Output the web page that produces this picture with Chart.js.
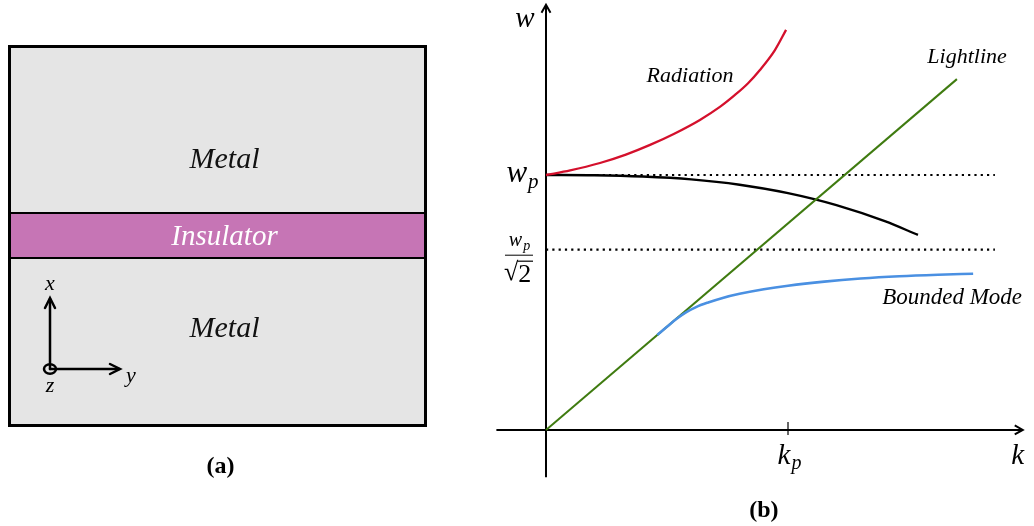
<!DOCTYPE html>
<html>
<head>
<meta charset="utf-8">
<script src="https://cdn.jsdelivr.net/npm/chart.js@4/dist/chart.umd.min.js"></script>
<style>
  html, body { margin: 0; padding: 0; background: #ffffff; }
  #wrap { position: relative; width: 1034px; height: 526px; overflow: hidden; }
  #panelA { position: absolute; left: 0; top: 0; }
  #panelB { position: absolute; left: 440px; top: 0; }
</style>
</head>
<body>
<div id="wrap">
  <canvas id="panelA" width="440" height="526"></canvas>
  <canvas id="panelB" width="594" height="526"></canvas>
</div>
<script>
// ---- (a) layer stack, listed bottom to top ----
const layerNames = ['Metal', 'Insulator', 'Metal'];
const layerThickness = [169, 45, 168];
// where each name sits inside its layer (0 = bottom edge, 1 = top edge)
const layerLabelAt = [0.578, 0.46, 0.315];

// ---- (b) dispersion curves, k in units of k_p, w in units of w_p ----
const lightK = [0, 1.698];
const lightW = [0, 1.376];

const radiationK = [0, 0.1, 0.223, 0.33, 0.43, 0.53, 0.636, 0.72, 0.781, 0.835, 0.884, 0.946, 0.992];
const radiationW = [1.0, 1.018, 1.047, 1.08, 1.118, 1.162, 1.216, 1.268, 1.314, 1.36, 1.412, 1.49, 1.569];

const surfaceK = [0, 0.2, 0.4, 0.6, 0.8, 1.0, 1.2, 1.4, 1.537];
const surfaceW = [1.0, 0.999, 0.994, 0.983, 0.962, 0.929, 0.882, 0.819, 0.765];

const boundK = [0.46, 0.50, 0.54, 0.58, 0.62, 0.67, 0.73, 0.80, 0.90, 1.00, 1.15, 1.30, 1.46, 1.62, 1.765];
const boundW = [0.373, 0.405, 0.436, 0.462, 0.482, 0.500, 0.518, 0.534, 0.552, 0.566, 0.582, 0.594, 0.603, 0.609, 0.613];

// reference levels w_p and w_p/sqrt(2), and where their dotted guides stop
const levelW = [1, 1 / Math.SQRT2];
const levelEndK = 1.855;

// tick on the k axis
const kTickValues = [1];
const kTickLabels = [['k', 'p']];

const SERIF = '"Liberation Serif", "DejaVu Serif", serif';

function pts(ks, ws) { return ks.map((k, i) => ({ x: k, y: ws[i] })); }

function chevron(ctx, tx, ty, dir, len, half) {
  // open arrowhead; dir: 'up' or 'right'
  ctx.beginPath();
  if (dir === 'up') {
    ctx.moveTo(tx - half, ty + len); ctx.lineTo(tx, ty); ctx.lineTo(tx + half, ty + len);
  } else {
    ctx.moveTo(tx - len, ty - half); ctx.lineTo(tx, ty); ctx.lineTo(tx - len, ty + half);
  }
  ctx.stroke();
}

function subText(ctx, base, sub, cx, cy, size, subSize, color) {
  ctx.fillStyle = color || '#000';
  ctx.textBaseline = 'middle';
  ctx.textAlign = 'left';
  ctx.font = 'italic ' + size + 'px ' + SERIF;
  const wb = ctx.measureText(base).width;
  ctx.font = 'italic ' + subSize + 'px ' + SERIF;
  const ws = ctx.measureText(sub).width;
  const x0 = cx - (wb + ws) / 2;
  ctx.font = 'italic ' + size + 'px ' + SERIF;
  ctx.fillText(base, x0, cy);
  ctx.font = 'italic ' + subSize + 'px ' + SERIF;
  ctx.fillText(sub, x0 + wb + 1, cy + size * 0.28);
}

// ---------------- panel (a) ----------------
const layerPlugin = {
  id: 'layerLabels',
  afterDatasetsDraw(chart) {
    const ctx = chart.ctx;
    const area = chart.chartArea;
    ctx.save();
    ctx.textAlign = 'center';
    ctx.textBaseline = 'middle';
    layerNames.forEach((name, i) => {
      const bar = chart.getDatasetMeta(i).data[0];
      const cy = bar.base + (bar.y - bar.base) * layerLabelAt[i];
      const isIns = name === 'Insulator';
      ctx.fillStyle = isIns ? '#ffffff' : '#111111';
      ctx.font = 'italic ' + (isIns ? 29 : 30) + 'px ' + SERIF;
      ctx.fillText(name, bar.x + 7, cy);
    });

    // coordinate triad
    const ox = area.left + 42, oy = area.bottom - 58;
    ctx.strokeStyle = '#000';
    ctx.lineWidth = 2.5;
    ctx.lineCap = 'round';
    ctx.lineJoin = 'miter';
    ctx.beginPath(); ctx.moveTo(ox, oy); ctx.lineTo(ox, oy - 70); ctx.stroke();
    chevron(ctx, ox, oy - 71, 'up', 10, 5);
    ctx.beginPath(); ctx.moveTo(ox, oy); ctx.lineTo(ox + 69, oy); ctx.stroke();
    chevron(ctx, ox + 70, oy, 'right', 10, 5);
    ctx.beginPath(); ctx.ellipse(ox, oy, 6, 4.8, 0, 0, Math.PI * 2); ctx.stroke();
    ctx.fillStyle = '#000';
    ctx.font = 'italic 22px ' + SERIF;
    ctx.textAlign = 'center';
    ctx.fillText('x', ox, oy - 85);
    ctx.fillText('y', ox + 81, oy + 7);
    ctx.fillText('z', ox, oy + 17);

    ctx.font = 'bold 24px ' + SERIF;
    ctx.fillText('(a)', (area.left + area.right) / 2 + 3, 467);
    ctx.restore();
  }
};

const frameW = 3, innerW = 1;
new Chart(document.getElementById('panelA'), {
  type: 'bar',
  data: {
    labels: ['stack'],
    datasets: [
      { data: [layerThickness[0]], backgroundColor: '#e5e5e5', borderColor: '#000',
        borderWidth: { top: innerW, bottom: frameW, left: frameW, right: frameW } },
      { data: [layerThickness[1]], backgroundColor: '#c675b5', borderColor: '#000',
        borderWidth: { top: innerW, bottom: innerW, left: frameW, right: frameW } },
      { data: [layerThickness[2]], backgroundColor: '#e5e5e5', borderColor: '#000',
        borderWidth: { top: frameW, bottom: innerW, left: frameW, right: frameW } }
    ]
  },
  options: {
    responsive: false,
    animation: false,
    events: [],
    layout: { padding: { left: 8, right: 13, top: 45, bottom: 99 } },
    datasets: { bar: { barPercentage: 1, categoryPercentage: 1, borderSkipped: false, inflateAmount: 0 } },
    plugins: { legend: { display: false }, tooltip: { enabled: false } },
    scales: {
      x: { stacked: true, display: false },
      y: { stacked: true, display: false, min: 0,
           max: layerThickness.reduce((a, b) => a + b, 0) }
    }
  },
  plugins: [layerPlugin]
});

// ---------------- panel (b) ----------------
const axesPlugin = {
  id: 'dispersionAxes',
  beforeDatasetsDraw(chart) {
    const ctx = chart.ctx;
    const xs = chart.scales.x, ys = chart.scales.y;
    const ox = xs.getPixelForValue(0), oy = ys.getPixelForValue(0);
    ctx.save();
    ctx.strokeStyle = '#000';
    ctx.lineWidth = 2;
    ctx.lineCap = 'butt';
    const yTop = ys.getPixelForValue(1.668);
    ctx.beginPath(); ctx.moveTo(ox, ys.getPixelForValue(-0.185)); ctx.lineTo(ox, yTop + 1); ctx.stroke();
    chevron(ctx, ox, yTop, 'up', 8, 4.5);
    const xEnd = xs.getPixelForValue(1.97);
    ctx.beginPath(); ctx.moveTo(xs.getPixelForValue(-0.205), oy); ctx.lineTo(xEnd - 1, oy); ctx.stroke();
    chevron(ctx, xEnd, oy, 'right', 8, 4.5);
    ctx.lineWidth = 1.2;
    kTickValues.forEach(v => {
      const px = xs.getPixelForValue(v);
      ctx.beginPath(); ctx.moveTo(px, oy - 8); ctx.lineTo(px, oy + 5); ctx.stroke();
    });
    ctx.restore();
  },
  afterDatasetsDraw(chart) {
    const ctx = chart.ctx;
    const xs = chart.scales.x, ys = chart.scales.y;
    const ox = xs.getPixelForValue(0), oy = ys.getPixelForValue(0);
    ctx.save();
    // axis names
    ctx.fillStyle = '#000';
    ctx.textAlign = 'center';
    ctx.textBaseline = 'middle';
    ctx.font = 'italic 29px ' + SERIF;
    ctx.fillText('w', ox - 21, 19);
    ctx.fillText('k', xs.getPixelForValue(1.97) - 5, oy + 26);
    // k tick labels
    kTickValues.forEach((v, i) => {
      subText(ctx, kTickLabels[i][0], kTickLabels[i][1], xs.getPixelForValue(v) + 1, oy + 26, 29, 20);
    });
    // w_p
    subText(ctx, 'w', 'p', ox - 24, ys.getPixelForValue(levelW[0]) - 1, 31, 21);
    // w_p / sqrt(2)
    const fy = ys.getPixelForValue(levelW[1]);
    const fx = ox - 27;
    subText(ctx, 'w', 'p', fx, fy - 9, 20, 14);
    ctx.strokeStyle = '#000';
    ctx.lineWidth = 1;
    ctx.beginPath(); ctx.moveTo(fx - 14, fy + 5.5); ctx.lineTo(fx + 14, fy + 5.5); ctx.stroke();
    ctx.font = '26px ' + SERIF;
    ctx.textAlign = 'left';
    ctx.fillText('\u221A', fx - 15, fy + 23);
    const rw = ctx.measureText('\u221A').width;
    ctx.fillText('2', fx - 15 + rw, fy + 25);
    ctx.lineWidth = 1.2;
    ctx.beginPath(); ctx.moveTo(fx - 15 + rw - 1, fy + 11.5); ctx.lineTo(fx + 14, fy + 11.5); ctx.stroke();

    // curve names
    ctx.textAlign = 'center';
    ctx.font = 'italic 22px ' + SERIF;
    ctx.fillText('Radiation', xs.getPixelForValue(0.595), ys.getPixelForValue(1.388));
    ctx.fillText('Lightline', xs.getPixelForValue(1.74), ys.getPixelForValue(1.463));
    ctx.font = 'italic 23px ' + SERIF;
    ctx.fillText('Bounded Mode', xs.getPixelForValue(1.678), ys.getPixelForValue(0.518));

    ctx.font = 'bold 24px ' + SERIF;
    ctx.fillText('(b)', xs.getPixelForValue(0.9), 511);
    ctx.restore();
  }
};

const curve = { showLine: true, pointRadius: 0, pointHoverRadius: 0, fill: false };
new Chart(document.getElementById('panelB'), {
  type: 'scatter',
  data: {
    datasets: [
      Object.assign({ data: pts(boundK, boundW), borderColor: '#4a90e2', borderWidth: 2.6,
                      cubicInterpolationMode: 'monotone' }, curve),
      Object.assign({ data: pts(lightK, lightW), borderColor: '#3f7b10', borderWidth: 2 }, curve),
      Object.assign({ data: pts(radiationK, radiationW), borderColor: '#d4102c', borderWidth: 2.3,
                      cubicInterpolationMode: 'monotone' }, curve),
      Object.assign({ data: pts(surfaceK, surfaceW), borderColor: '#000000', borderWidth: 2.4,
                      cubicInterpolationMode: 'monotone' }, curve),
      ...levelW.map(w => Object.assign({ data: [{ x: 0, y: w }, { x: levelEndK, y: w }],
                      borderColor: '#000000', borderWidth: 2.2, borderDash: [2.2, 4.1] }, curve))
    ]
  },
  options: {
    responsive: false,
    animation: false,
    events: [],
    layout: { padding: 0 },
    plugins: { legend: { display: false }, tooltip: { enabled: false } },
    scales: {
      x: { type: 'linear', display: false, min: -0.438, max: 2.0165 },
      y: { type: 'linear', display: false, min: -0.3765, max: 1.6863 }
    }
  },
  plugins: [axesPlugin]
});
</script>
</body>
</html>
